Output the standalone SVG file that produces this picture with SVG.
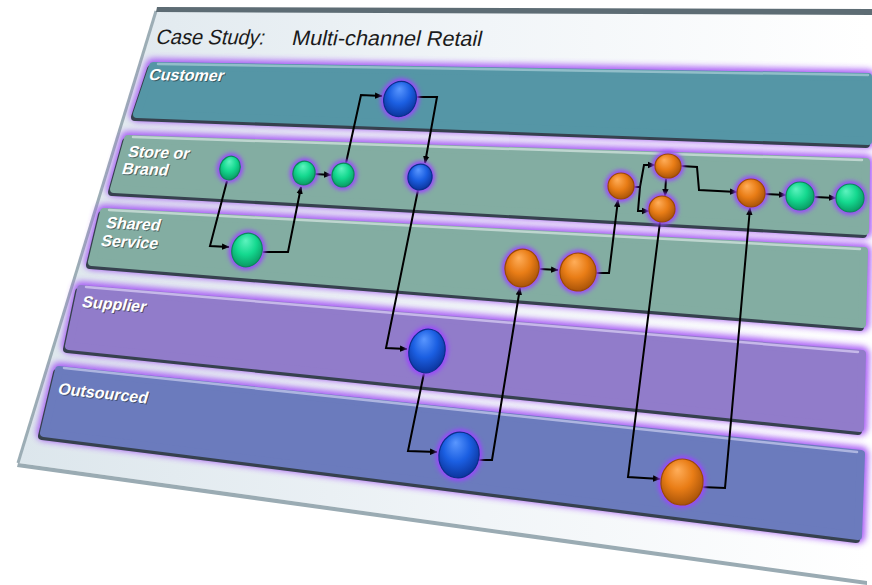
<svg xmlns="http://www.w3.org/2000/svg" width="872" height="585" viewBox="0 0 872 585">
<defs>
<style>
.lbl{font-family:"Liberation Sans",Arial,sans-serif;font-weight:bold;font-size:16px;fill:#ffffff}
.lsh{font-family:"Liberation Sans",Arial,sans-serif;font-weight:bold;font-size:16px;fill:#1c2a33;opacity:.55}
.ttl{font-family:"Liberation Sans",Arial,sans-serif;font-size:21px;fill:#1b1b1b}
.glow{fill:none;stroke:#a24ff5;stroke-width:15;stroke-linejoin:round;filter:url(#lblur);opacity:.9}
.shd{fill:#36414e;stroke:#36414e;stroke-width:8;stroke-linejoin:round}
.teal{fill:#5596a6;stroke:#5596a6;stroke-width:8;stroke-linejoin:round}
.sage{fill:#83ada2;stroke:#83ada2;stroke-width:8;stroke-linejoin:round}
.lilac{fill:#917cca;stroke:#917cca;stroke-width:8;stroke-linejoin:round}
.indigo{fill:#6b7bbd;stroke:#6b7bbd;stroke-width:8;stroke-linejoin:round}
.hl{fill:none;stroke-width:2.5;stroke-linecap:round;opacity:.85}
.ng{fill:#9b45ff;filter:url(#nblur)}
.gr{fill:url(#rg);stroke:#0c8a5a;stroke-width:1.2}
.bl{fill:url(#rb);stroke:#0b2f8c;stroke-width:1.2}
.or{fill:url(#ro);stroke:#9a4a06;stroke-width:1.2}
.c{fill:none;stroke:#000;stroke-width:2;stroke-linejoin:miter}
.a{marker-end:url(#ah)}
</style>
<marker id="ah" markerWidth="8" markerHeight="8" refX="7" refY="4" orient="auto" markerUnits="userSpaceOnUse"><path d="M0,0.8 L7.5,4 L0,7.2 z" fill="#000"/></marker>
<filter id="lblur" x="-10%" y="-30%" width="120%" height="160%"><feGaussianBlur stdDeviation="3"/></filter>
<filter id="nblur" x="-50%" y="-50%" width="200%" height="200%"><feGaussianBlur stdDeviation="2"/></filter>
<linearGradient id="board" x1="0" y1="0" x2="1" y2="0"><stop offset="0" stop-color="#dce6ec"/><stop offset="0.55" stop-color="#f1f5f8"/><stop offset="1" stop-color="#ffffff"/></linearGradient>
<radialGradient id="rg" cx="0.45" cy="0.4" r="0.6" fx="0.35" fy="0.25"><stop offset="0" stop-color="#5ef3bf"/><stop offset="0.55" stop-color="#14d98f"/><stop offset="1" stop-color="#0a9d66"/></radialGradient>
<radialGradient id="rb" cx="0.45" cy="0.4" r="0.6" fx="0.35" fy="0.25"><stop offset="0" stop-color="#5a97ff"/><stop offset="0.55" stop-color="#1b5fe2"/><stop offset="1" stop-color="#0c36a0"/></radialGradient>
<radialGradient id="ro" cx="0.45" cy="0.4" r="0.6" fx="0.35" fy="0.25"><stop offset="0" stop-color="#ffae5a"/><stop offset="0.55" stop-color="#e97d16"/><stop offset="1" stop-color="#ab5509"/></radialGradient>
</defs>

<g id="board">
<polygon points="157,10 868,13 867,581 18,463" fill="url(#board)"/>
<polygon points="18,463 867,581 867,585 17,467" fill="#9aabb3"/>
<line x1="156" y1="11" x2="18" y2="463" stroke="#9cadb5" stroke-width="3"/>
<polygon points="157,7 872,9 872,15 156,12" fill="#5d6c74"/>
<text class="ttl" transform="matrix(0.95,0.005,-0.27,1,155,44)">Case Study:</text>
<text class="ttl" transform="matrix(1.03,0.005,-0.22,1,291,45)">Multi-channel Retail</text>
</g>

<g id="lane-customer">
<polygon class="glow" points="153,66 868,77 868,141 137,114"/>
<polygon class="shd" points="151,69 866,80 866,144 135,117"/>
<polygon class="teal" points="153,66 868,77 868,141 137,114"/>
<line class="hl" x1="158" y1="64" x2="868" y2="75" stroke="#9cc6cf"/>
<text class="lsh" transform="matrix(1,0.015,-0.29,1,149,81)">Customer</text>
<text class="lbl" transform="matrix(1,0.015,-0.29,1,148,80)">Customer</text>
</g>

<g id="lane-store">
<polygon class="glow" points="128,139 866,162 865,231 114,189"/>
<polygon class="shd" points="126,142 864,165 863,234 112,192"/>
<polygon class="sage" points="128,139 866,162 865,231 114,189"/>
<line class="hl" x1="133" y1="137" x2="862" y2="160" stroke="#c9ddd7"/>
<text class="lsh" transform="matrix(1,0.031,-0.29,1,128,158)">Store or</text>
<text class="lbl" transform="matrix(1,0.031,-0.29,1,127,157)">Store or</text>
<text class="lsh" transform="matrix(1,0.031,-0.29,1,122,175)">Brand</text>
<text class="lbl" transform="matrix(1,0.031,-0.29,1,121,174)">Brand</text>
</g>

<g id="lane-shared">
<polygon class="glow" points="104,212 864,251 862,324 92,262"/>
<polygon class="shd" points="102,215 862,254 860,327 90,265"/>
<polygon class="sage" points="104,212 864,251 862,324 92,262"/>
<line class="hl" x1="109" y1="210" x2="860" y2="249" stroke="#c9ddd7"/>
<text class="lsh" transform="matrix(1,0.051,-0.29,1,106,229)">Shared</text>
<text class="lbl" transform="matrix(1,0.051,-0.29,1,105,228)">Shared</text>
<text class="lsh" transform="matrix(1,0.051,-0.29,1,101,247)">Service</text>
<text class="lbl" transform="matrix(1,0.051,-0.29,1,100,246)">Service</text>
</g>

<g id="lane-supplier">
<polygon class="glow" points="81,289 862,354 860,428 69,346"/>
<polygon class="shd" points="79,292 860,357 858,431 67,349"/>
<polygon class="lilac" points="81,289 862,354 860,428 69,346"/>
<line class="hl" x1="86" y1="287" x2="858" y2="352" stroke="#cfc3ef"/>
<text class="lsh" transform="matrix(1,0.083,-0.29,1,82,308)">Supplier</text>
<text class="lbl" transform="matrix(1,0.083,-0.29,1,81,307)">Supplier</text>
</g>

<g id="lane-outsourced">
<polygon class="glow" points="59,370 861,454 858,536 44,433"/>
<polygon class="shd" points="57,373 859,457 856,539 42,436"/>
<polygon class="indigo" points="59,370 861,454 858,536 44,433"/>
<line class="hl" x1="64" y1="368" x2="857" y2="452" stroke="#b8c0e6"/>
<text class="lsh" transform="matrix(1,0.105,-0.29,1,58,395)">Outsourced</text>
<text class="lbl" transform="matrix(1,0.105,-0.29,1,57,394)">Outsourced</text>
</g>

<g id="connectors">
<path class="c a" d="M227,181 L210,246 L229,247"/>
<path class="c a" d="M263,252 L288,252 L301,187"/>
<path class="c a" d="M315,174 L331,175"/>
<path class="c a" d="M346,163 L361,95 L382,96"/>
<path class="c a" d="M417,97 L437,97 L425,163"/>
<path class="c a" d="M418,190 L386,348 L407,349"/>
<path class="c a" d="M424,373 L408,451 L437,452"/>
<path class="c a" d="M478,460 L492,460 L520,288"/>
<path class="c a" d="M540,269 L558,270"/>
<path class="c a" d="M596,273 L609,273 L618,200"/>
<path class="c a" d="M634,187 L640,187 L644,165 L655,165"/>
<path class="c a" d="M640,187 L638,211 L649,211"/>
<path class="c a" d="M666,179 L665,196"/>
<path class="c a" d="M681,166 L697,167 L699,190 L737,192"/>
<path class="c a" d="M765,194 L786,195"/>
<path class="c a" d="M815,197 L836,198"/>
<path class="c a" d="M660,222 L628,477 L660,479"/>
<path class="c a" d="M701,487 L725,488 L750,208"/>
</g>

<g id="n-g1" transform="translate(230,168) rotate(20)"><ellipse class="ng" rx="13" ry="15"/><ellipse class="gr" rx="10" ry="12"/></g>
<g id="n-g2" transform="translate(304,173) rotate(20)"><ellipse class="ng" rx="14" ry="15"/><ellipse class="gr" rx="11" ry="12"/></g>
<g id="n-g3" transform="translate(343,175) rotate(15)"><ellipse class="ng" rx="14" ry="15"/><ellipse class="gr" rx="11" ry="12"/></g>
<g id="n-g4" transform="translate(247,250) rotate(20)"><ellipse class="ng" rx="18" ry="20"/><ellipse class="gr" rx="15" ry="17"/></g>
<g id="n-b1" transform="translate(400,99) rotate(25)"><ellipse class="ng" rx="19" ry="21"/><ellipse class="bl" rx="16" ry="18"/></g>
<g id="n-b2" transform="translate(420,177) rotate(15)"><ellipse class="ng" rx="15" ry="16"/><ellipse class="bl" rx="12" ry="13"/></g>
<g id="n-b3" transform="translate(427,351) rotate(12)"><ellipse class="ng" rx="21" ry="25"/><ellipse class="bl" rx="18" ry="22"/></g>
<g id="n-b4" transform="translate(459,455) rotate(12)"><ellipse class="ng" rx="23" ry="26"/><ellipse class="bl" rx="20" ry="23"/></g>
<g id="n-o5" transform="translate(522,268) rotate(10)"><ellipse class="ng" rx="20" ry="22"/><ellipse class="or" rx="17" ry="19"/></g>
<g id="n-o6" transform="translate(578,272) rotate(10)"><ellipse class="ng" rx="21" ry="22"/><ellipse class="or" rx="18" ry="19"/></g>
<g id="n-o1" transform="translate(621,186)"><ellipse class="ng" rx="16" ry="16"/><ellipse class="or" rx="13" ry="13"/></g>
<g id="n-o2" transform="translate(668,166)"><ellipse class="ng" rx="16" ry="15"/><ellipse class="or" rx="13" ry="12"/></g>
<g id="n-o3" transform="translate(662,209)"><ellipse class="ng" rx="16" ry="16"/><ellipse class="or" rx="13" ry="13"/></g>
<g id="n-o4" transform="translate(751,193)"><ellipse class="ng" rx="17" ry="17"/><ellipse class="or" rx="14" ry="14"/></g>
<g id="n-g5" transform="translate(800,196)"><ellipse class="ng" rx="17" ry="17"/><ellipse class="gr" rx="14" ry="14"/></g>
<g id="n-g6" transform="translate(850,198)"><ellipse class="ng" rx="17" ry="17"/><ellipse class="gr" rx="14" ry="14"/></g>
<g id="n-o7" transform="translate(682,482) rotate(8)"><ellipse class="ng" rx="24" ry="26"/><ellipse class="or" rx="21" ry="23"/></g>
</svg>
